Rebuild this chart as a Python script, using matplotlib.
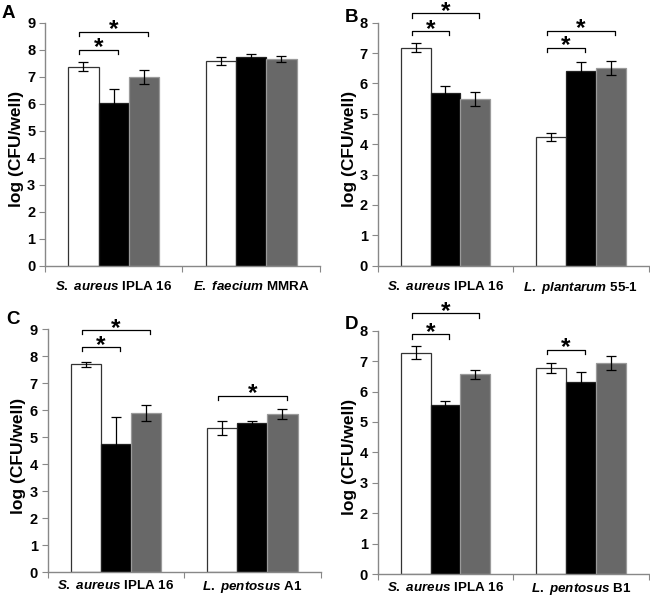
import matplotlib.pyplot as plt
import numpy as np

plt.rcParams['font.family'] = 'Liberation Sans'
plt.rcParams['font.weight'] = 'bold'
plt.rcParams['mathtext.fontset'] = 'custom'
plt.rcParams['mathtext.it'] = 'Liberation Sans:italic:bold'
plt.rcParams['mathtext.rm'] = 'Liberation Sans:bold'

# --- data ---
labels_A = [r'$\mathit{S.\ aureus}$ IPLA 16', r'$\mathit{E.\ faecium}$ MMRA']
white_A = [7.37, 7.59]
black_A = [6.03, 7.74]
gray_A = [6.99, 7.65]
white_err_A = [0.16, 0.15]
black_err_A = [0.52, 0.11]
gray_err_A = [0.25, 0.11]
# (group, bar from, bar to, height)
sig_A = [(0, 0, 1, 8.0), (0, 0, 2, 8.67)]

labels_B = [r'$\mathit{S.\ aureus}$ IPLA 16', r'$\mathit{L.\ plantarum}$ 55-1']
white_B = [7.18, 4.24]
black_B = [5.68, 6.42]
gray_B = [5.49, 6.51]
white_err_B = [0.14, 0.12]
black_err_B = [0.22, 0.27]
gray_err_B = [0.24, 0.24]
sig_B = [(0, 0, 1, 7.73), (0, 0, 2, 8.31), (1, 0, 1, 7.18), (1, 0, 2, 7.74)]

labels_C = [r'$\mathit{S.\ aureus}$ IPLA 16', r'$\mathit{L.\ pentosus}$ A1']
white_C = [7.70, 5.36]
black_C = [4.77, 5.52]
gray_C = [5.90, 5.86]
white_err_C = [0.10, 0.26]
black_err_C = [1.00, 0.10]
gray_err_C = [0.30, 0.20]
sig_C = [(0, 0, 1, 8.33), (0, 0, 2, 8.97), (1, 0, 2, 6.54)]

labels_D = [r'$\mathit{S.\ aureus}$ IPLA 16', r'$\mathit{L.\ pentosus}$ B1']
white_D = [7.28, 6.77]
black_D = [5.55, 6.33]
gray_D = [6.57, 6.93]
white_err_D = [0.21, 0.16]
black_err_D = [0.14, 0.30]
gray_err_D = [0.15, 0.23]
sig_D = [(0, 0, 1, 7.88), (0, 0, 2, 8.58), (1, 0, 1, 7.38)]

fig = plt.figure(figsize=(6.5, 5.97), dpi=100)

w = 0.22
offs = [-w, 0, w]
fills = ['white', 'black', '#686868']
edges = ['#333333', '#222222', '#9a9a9a']


def panel(rect, letter, letter_xy, labels, vals, errs, sig, ymax, xpad):
    ax = fig.add_axes(rect)
    x = np.arange(len(labels))
    for i in range(3):
        ax.bar(x + offs[i], vals[i], w, color=fills[i], edgecolor=edges[i], linewidth=0.9,
               yerr=errs[i], capsize=3.5, error_kw=dict(ecolor='black', elinewidth=0.9, capthick=0.9),
               zorder=2)
    for g, a, b, h in sig:
        x0 = g + offs[a] - 0.03
        x1 = g + offs[b] + 0.03
        ax.plot([x0, x0, x1, x1], [h - 0.15, h, h, h - 0.15], color='black', lw=0.9,
                clip_on=False, zorder=3)
        ax.annotate('*', ((x0 + x1) / 2, h), xytext=(0, -7), textcoords='offset points',
                    ha='center', va='bottom', fontsize=17.5, fontweight='bold', annotation_clip=False)
    ax.set_xlim(-0.5, len(labels) - 0.5)
    ax.set_ylim(0, ymax)
    ax.set_yticks(range(ymax + 1))
    ax.set_xticks(np.arange(len(labels) + 1) - 0.5)
    ax.set_xticklabels([])
    ax.set_xticks(x, minor=True)
    ax.set_xticklabels(labels, minor=True)
    ax.tick_params(axis='x', which='minor', length=0, pad=xpad, labelsize=9.6)
    ax.tick_params(axis='x', which='major', length=4, color='#888888')
    ax.tick_params(axis='y', length=4, color='#888888', labelsize=10.5, pad=3)
    for s in ['top', 'right']:
        ax.spines[s].set_visible(False)
    for s in ['left', 'bottom']:
        ax.spines[s].set_color('#888888')
        ax.spines[s].set_linewidth(1.0)
    ax.set_ylabel('log (CFU/well)', fontsize=12.5, fontweight='bold')
    ax.yaxis.set_label_coords(-0.078, 0.48)
    fig.text(letter_xy[0], letter_xy[1], letter, fontsize=13.5, fontweight='bold',
             ha='center', va='center')
    return ax


panel([0.0692, 0.555, 0.423, 0.407], 'A', (0.013, 0.977), labels_A,
      [white_A, black_A, gray_A], [white_err_A, black_err_A, gray_err_A], sig_A, 9, 10)
panel([0.581, 0.555, 0.417, 0.407], 'B', (0.540, 0.970), labels_B,
      [white_B, black_B, gray_B], [white_err_B, black_err_B, gray_err_B], sig_B, 8, 10)
panel([0.0734, 0.0414, 0.420, 0.407], 'C', (0.020, 0.464), labels_C,
      [white_C, black_C, gray_C], [white_err_C, black_err_C, gray_err_C], sig_C, 9, 5)
panel([0.581, 0.0385, 0.417, 0.4075], 'D', (0.540, 0.456), labels_D,
      [white_D, black_D, gray_D], [white_err_D, black_err_D, gray_err_D], sig_D, 8, 5)

fig.savefig('out.png', dpi=100)
